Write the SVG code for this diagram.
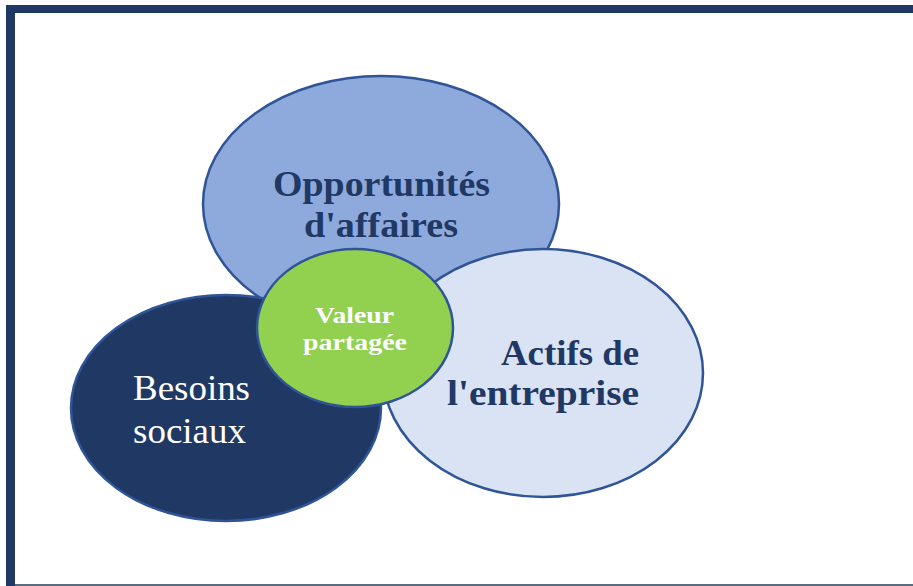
<svg xmlns="http://www.w3.org/2000/svg" width="913" height="586" viewBox="0 0 913 586">
<style>
.el{stroke:#2F5597;stroke-width:2.5}
.t{font-family:"Liberation Serif","DejaVu Serif",serif}
.b{font-weight:bold}
.dk{fill:#1F3864}
.wh{fill:#FFFFFF}
</style>
<rect width="913" height="586" fill="#FFFFFF"/>
<g id="frame">
<rect x="6" y="5" width="907" height="8" fill="#1F3864"/>
<rect x="6" y="5" width="9" height="581" fill="#1F3864"/>
<rect x="15" y="584" width="898" height="2" fill="#5B6B82"/>
</g>
<g id="opportunites">
<ellipse class="el" cx="381" cy="204" rx="178" ry="128" fill="#8EA9DB"/>
<text class="t b dk" x="381.5" y="196" font-size="36" text-anchor="middle" textLength="217" lengthAdjust="spacingAndGlyphs">Opportunités</text>
<text class="t b dk" x="381" y="237" font-size="36" text-anchor="middle" textLength="154" lengthAdjust="spacingAndGlyphs">d'affaires</text>
</g>
<g id="actifs">
<ellipse class="el" cx="543" cy="373" rx="160" ry="124" fill="#DAE3F3"/>
<text class="t b dk" x="570" y="365" font-size="36" text-anchor="middle" textLength="138" lengthAdjust="spacingAndGlyphs">Actifs de</text>
<text class="t b dk" x="543" y="405" font-size="36" text-anchor="middle" textLength="192" lengthAdjust="spacingAndGlyphs">l'entreprise</text>
</g>
<g id="besoins">
<ellipse class="el" cx="226" cy="408" rx="155" ry="113" fill="#1F3864"/>
<text class="t wh" x="133" y="400" font-size="35" textLength="117" lengthAdjust="spacingAndGlyphs">Besoins</text>
<text class="t wh" x="133" y="443" font-size="35" textLength="113" lengthAdjust="spacingAndGlyphs">sociaux</text>
</g>
<g id="valeur">
<ellipse class="el" cx="355" cy="328" rx="98" ry="79" fill="#92D050"/>
<text class="t b wh" x="354.5" y="323" font-size="24" text-anchor="middle" textLength="79" lengthAdjust="spacingAndGlyphs">Valeur</text>
<text class="t b wh" x="355" y="350" font-size="24" text-anchor="middle" textLength="104" lengthAdjust="spacingAndGlyphs">partagée</text>
</g>
<g id="connectors"/>
</svg>
